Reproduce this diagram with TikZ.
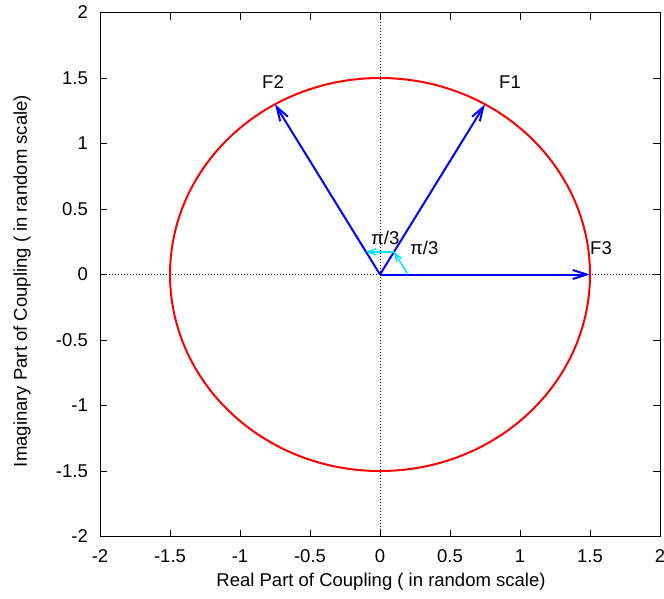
\documentclass[tikz,border=0pt]{standalone}
\usepackage{fontspec}
\setmainfont{Liberation Sans}
\usetikzlibrary{arrows.meta}
\definecolor{vblue}{RGB}{0,0,255}
\definecolor{cred}{RGB}{255,0,0}
\definecolor{acyan}{RGB}{0,230,255}
\begin{document}
\begin{tikzpicture}[x=1pt,y=-1pt,
  lbl/.style={inner sep=0pt, font=\fontsize{18.5}{22}\selectfont},
  frame/.style={draw=black, line width=1pt},
  tick/.style={draw=black, line width=1pt},
  zeroaxis/.style={draw=black, line width=0.9pt, dash pattern=on 1pt off 2pt},
  circ/.style={draw=cred, line width=2pt},
  vec/.style={draw=vblue, line width=2pt, -{Straight Barb[length=14pt,width=9pt,line width=2pt]}},
  ang/.style={draw=acyan, line width=1.4pt, -{Straight Barb[length=8pt,width=6pt,line width=1.4pt]}}]
\useasboundingbox (0,0) rectangle (664,598);
% axes frame
\coordinate (BL) at (100,536.5);
\coordinate (TR) at (660,12.5);
% zero axes
\coordinate (ZL) at (100,274.5);
\coordinate (ZR) at (660,274.5);
\coordinate (ZT) at (380,12.5);
\coordinate (ZB) at (380,536.5);
\draw[zeroaxis] (ZL) -- (ZR);
\draw[zeroaxis] (ZT) -- (ZB);
% ticks and tick labels
\foreach \v/\t [count=\i] in {2/2,1.5/1.5,1/1,0.5/0.5,0/0,-0.5/-0.5,-1/-1,-1.5/-1.5,-2/-2}{
  \pgfmathsetmacro{\py}{274.5-131*\v}
  \pgfmathsetmacro{\px}{380+140*\v}
  \draw[tick] (100,\py) -- (107,\py);
  \draw[tick] (660,\py) -- (653,\py);
  \draw[tick] (\px,536.5) -- (\px,529.5);
  \draw[tick] (\px,12.5) -- (\px,19.5);
  \node[lbl, anchor=east] (yl\i) at (88,\py) {\t};
  \node[lbl, anchor=center] (xl\i) at (\px,556.5) {\t};
}
\draw[frame] (BL) rectangle (TR);
% circle
\coordinate (O) at (380,274.5);
\draw[circ] (O) ellipse [x radius=210, y radius=196.5];
% vectors
\coordinate (P1) at (485,104.3);
\coordinate (P2) at (275,104.3);
\coordinate (P3) at (590,274.5);
\draw[vec] (O) -- (P1);
\draw[vec] (O) -- (P2);
\draw[vec] (O) -- (P3);
% angle arrows
\coordinate (C1) at (408,274.5);
\coordinate (C2) at (394,251.8);
\coordinate (C3) at (366,251.8);
\draw[ang] (C1) -- (C2);
\draw[ang] (C2) -- (C3);
% labels
\node[lbl, anchor=west] (F1) at (499,82) {F1};
\node[lbl, anchor=west] (F2) at (262,82) {F2};
\node[lbl, anchor=west] (F3) at (590,248.5) {F3};
\node[lbl, anchor=west] (A1) at (371,238) {π/3};
\node[lbl, anchor=west] (A2) at (410,248) {π/3};
% axis titles
\node[lbl, anchor=center] (XT) at (381,582) {Real Part of Coupling ( in random scale)};
\node[lbl, anchor=center, rotate=90] (YT) at (22,281) {Imaginary Part of Coupling ( in random scale)};
\end{tikzpicture}
\end{document}
